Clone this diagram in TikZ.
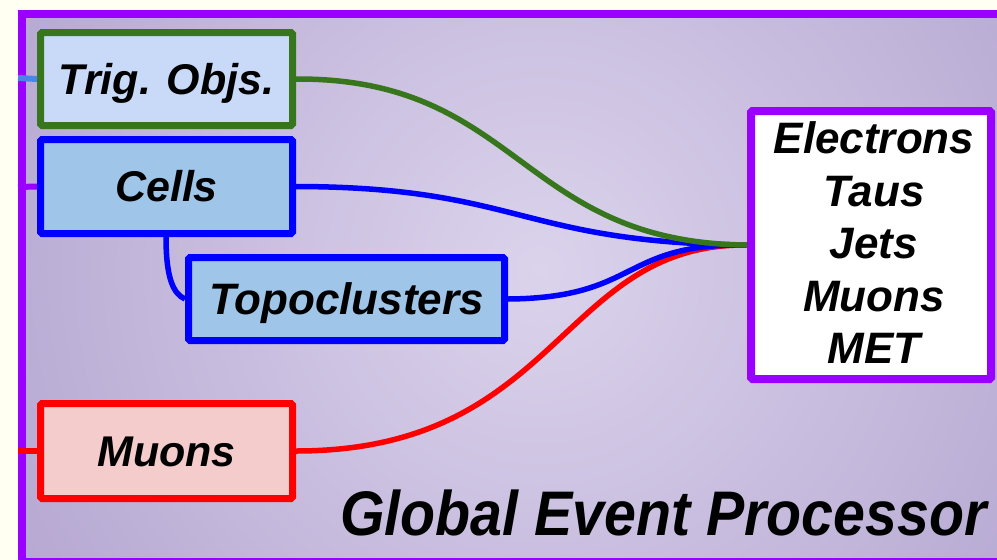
\documentclass[tikz,border=0pt]{standalone}
\usepackage{fontspec}
\setmainfont{Liberation Sans}
\definecolor{cream}{RGB}{255,255,242}
\definecolor{gpurple}{RGB}{153,0,255}
\definecolor{trigfill}{RGB}{201,218,248}
\definecolor{trigline}{RGB}{56,118,29}
\definecolor{cellfill}{RGB}{159,197,232}
\definecolor{muonfill}{RGB}{244,204,204}
\definecolor{stubblue}{RGB}{74,134,232}
\definecolor{bginner}{RGB}{219,211,236}
\definecolor{bgouter}{RGB}{146,126,184}
\begin{document}
\begin{tikzpicture}[x=1pt,y=-1pt,
  box/.style={draw, line width=7pt, rounded corners=1.5pt, inner sep=0pt,
    text height=30pt, text depth=0pt,
    font=\fontsize{43}{50}\selectfont\bfseries\itshape},
  wire/.style={line width=5.5pt},
  stub/.style={line width=6pt}]
\useasboundingbox (0,0) rectangle (997,560);
\fill[cream] (0,0) rectangle (997,560);
\begin{scope}
\clip (22,14) rectangle (1005,563);
\shade[inner color=bginner, outer color=bgouter] (540,270) circle (1180);
\end{scope}
\begin{scope}
\clip (0,0) rectangle (997,560);
\draw[line width=8pt, draw=gpurple] (22,14) rectangle (1005,562);
\end{scope}
% stubs
\coordinate (s1) at (18,78);
\coordinate (s2) at (18,187);
\coordinate (s3) at (18,451);
% boxes
\node[box, draw=trigline, fill=trigfill, minimum width=252pt, minimum height=93pt]
  (trig) at (166.5,79) {Trig. Objs.};
\node[box, draw=blue, fill=cellfill, minimum width=252pt, minimum height=94pt]
  (cells) at (166.5,186.5) {Cells};
\node[box, draw=blue, fill=cellfill, minimum width=316pt, minimum height=83pt,
  font=\fontsize{44}{50}\selectfont\bfseries\itshape]
  (topo) at (346.5,299) {Topoclusters};
\node[box, draw=red, fill=muonfill, minimum width=252pt, minimum height=95pt]
  (muons) at (166.5,451) {Muons};
\node[draw=gpurple, fill=white, line width=8pt, rounded corners=1.5pt, inner sep=0pt,
  minimum width=240pt, minimum height=268pt]
  (out) at (871,245) {};
\node[align=center, inner sep=0pt,
  font=\fontsize{44}{52.5}\selectfont\bfseries\itshape]
  (outtext) at (874,243) {Electrons\\Taus\\Jets\\Muons\\MET};
\node[anchor=base east, inner sep=0pt, xscale=0.91,
  font=\fontsize{63}{70}\selectfont\bfseries\itshape]
  (title) at (987,535) {Global Event Processor};
% stubs drawn
\draw[stub, stubblue] (s1) -- (trig.west);
\draw[stub, gpurple] (s2) -- (cells.west);
\draw[stub, red] (s3) -- (muons.west);
% wires
\draw[wire, red] (muons.east) .. controls (560,451) and (560,243) .. (out.west);
\draw[wire, blue] (topo.east) .. controls (640,298) and (620,243) .. (out.west);
\draw[wire, blue] (cells.east) .. controls (520,187) and (520,243) .. (out.west);
\draw[wire, trigline] (trig.east) .. controls (520,78) and (520,243) .. (out.west);
\draw[wire, blue] (166,237) .. controls (166,280) and (174,294) .. (topo.west);
\end{tikzpicture}
\end{document}
